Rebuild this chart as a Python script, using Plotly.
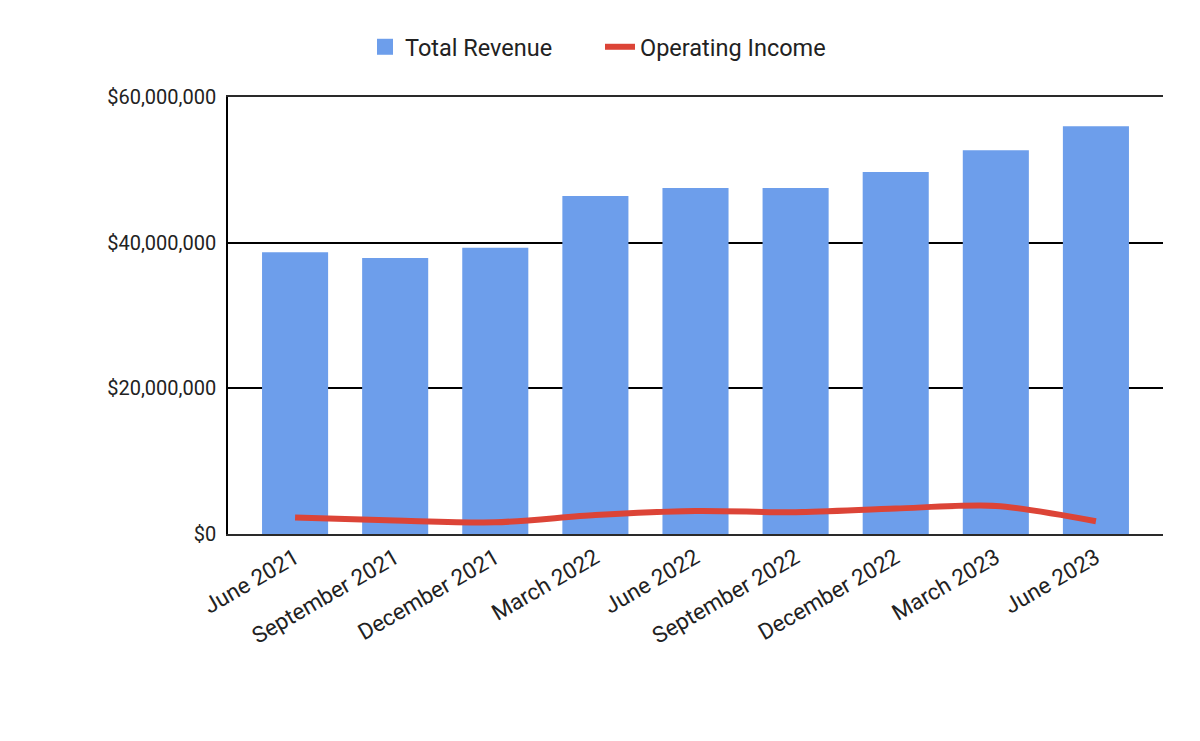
import plotly.graph_objects as go

quarters = ["June 2021", "September 2021", "December 2021", "March 2022", "June 2022",
            "September 2022", "December 2022", "March 2023", "June 2023"]
total_revenue = [38.7e6, 37.9e6, 39.3e6, 46.4e6, 47.5e6, 47.5e6, 49.7e6, 52.7e6, 56.0e6]
operating_income = [2.25e6, 1.85e6, 1.6e6, 2.6e6, 3.15e6, 3.0e6, 3.5e6, 3.85e6, 1.75e6]
y_ticks = [0, 20e6, 40e6, 60e6]
y_tick_labels = ["$0", "$20,000,000", "$40,000,000", "$60,000,000"]

BLUE = "#6d9eeb"
RED = "#dc4437"

fig = go.Figure()
fig.add_trace(go.Bar(x=quarters, y=total_revenue, name="Total Revenue", showlegend=False,
                     marker=dict(color=BLUE, line=dict(width=0))))
# legend-only entry with a larger square swatch
fig.add_trace(go.Scatter(x=[None], y=[None], name="Total Revenue", mode="markers",
                         marker=dict(symbol="square", size=22, color=BLUE)))
fig.add_trace(go.Scatter(x=quarters, y=operating_income, name="Operating Income",
                         mode="lines", line=dict(color=RED, width=6, shape="spline", smoothing=0.8)))

n = len(quarters)
fig.update_layout(
    width=1200, height=741,
    margin=dict(l=228, r=37, t=97, b=207, autoexpand=False),
    paper_bgcolor="white", plot_bgcolor="white",
    font=dict(family="Roboto", color="#222222"),
    bargap=0.34,
    showlegend=True,
    legend=dict(orientation="h", x=0.5, xanchor="center", xref="container",
                y=1 - 47 / 741, yanchor="middle", yref="container",
                font=dict(size=23.5, color="#222222"), itemwidth=30,
                entrywidth=190, entrywidthmode="pixels"),
    xaxis=dict(tickangle=-30, tickfont=dict(size=22.5, color="#222222"), showgrid=False,
               range=[-0.67, n - 1 + 0.67],
               showline=True, linecolor="#2a2a2a", linewidth=2, mirror=True,
               ticks="", zeroline=False),
    yaxis=dict(range=[0, 60e6], tickvals=y_ticks, ticktext=y_tick_labels,
               tickfont=dict(size=20, color="#222222"), showgrid=True, gridcolor="black",
               gridwidth=1.5, showline=True, linecolor="black", linewidth=1.5,
               zeroline=False, ticks="", ticklabelstandoff=6),
)

fig.write_html("out.html")
